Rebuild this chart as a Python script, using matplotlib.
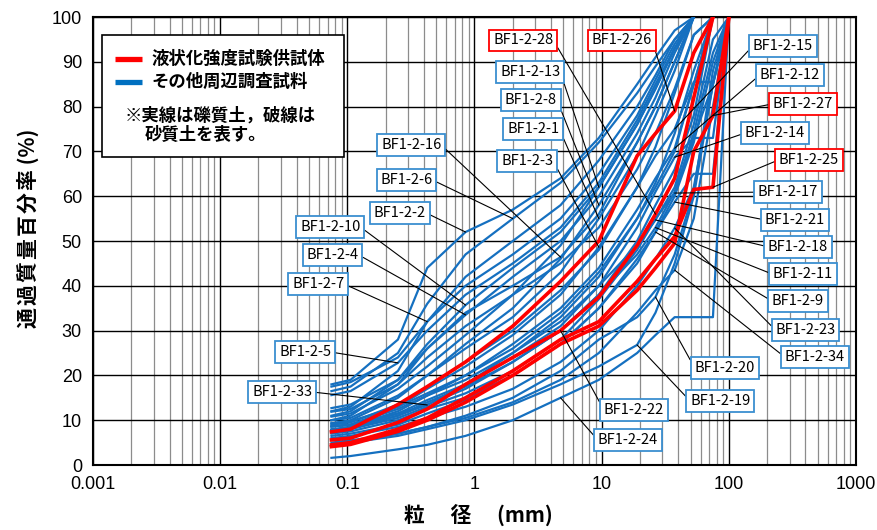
import matplotlib
matplotlib.use("Agg")
import matplotlib.pyplot as plt
from matplotlib.patches import Rectangle
from matplotlib.lines import Line2D
from matplotlib.ticker import FixedLocator, NullFormatter

# Sieve openings (mm)
sieves = [0.075, 0.106, 0.25, 0.425, 0.85, 2.0, 4.75, 9.5, 19.0, 26.5, 37.5, 53.0, 75.0, 100.0]

# Percent passing for each sample, listed along the sieves until 100 % is reached
bf_1 = [10.0, 10.5, 15.5, 20.0, 26.0, 33.0, 43.0, 55.0, 69.0, 78.0, 88.0, 100.0]
bf_2 = [18.0, 19.0, 28.0, 44.0, 52.0, 57.0, 64.0, 73.0, 85.0, 91.0, 97.0, 100.0]
bf_3 = [8.6, 9.0, 13.0, 17.0, 22.0, 29.0, 38.0, 48.6, 62.0, 71.0, 83.0, 96.0, 100.0]
bf_4 = [10.0, 11.0, 18.0, 26.0, 33.5, 42.0, 50.0, 60.0, 74.0, 82.0, 92.0, 100.0]
bf_5 = [15.6, 16.5, 22.8, 30.0, 38.0, 45.0, 53.0, 63.0, 77.0, 85.0, 93.0, 100.0]
bf_6 = [16.5, 17.5, 25.0, 36.0, 47.0, 55.0, 63.0, 72.0, 83.0, 89.0, 95.0, 100.0]
bf_7 = [12.0, 13.0, 21.0, 32.0, 40.0, 47.0, 55.0, 65.0, 78.0, 86.0, 94.0, 100.0]
bf_8 = [9.3, 10.0, 15.0, 20.0, 27.0, 35.0, 46.0, 58.0, 72.0, 80.0, 90.0, 100.0]
bf_9 = [7.0, 7.5, 10.0, 12.5, 15.0, 20.0, 27.0, 35.0, 45.0, 52.0, 60.0, 72.0, 90.0, 100.0]
bf_10 = [11.0, 12.0, 19.0, 27.0, 35.7, 44.0, 52.0, 62.0, 76.0, 84.0, 93.0, 100.0]
bf_11 = [7.8, 8.2, 11.0, 14.0, 17.5, 23.0, 30.0, 38.0, 47.0, 53.0, 61.0, 74.0, 92.0, 100.0]
bf_12 = [7.8, 8.5, 12.0, 15.5, 20.0, 27.0, 35.0, 44.0, 57.0, 64.0, 70.7, 85.0, 100.0]
bf_13 = [10.8, 11.5, 17.0, 22.0, 29.0, 38.0, 49.0, 62.0, 76.0, 84.0, 93.0, 100.0]
bf_14 = [8.0, 8.5, 11.5, 14.5, 18.0, 24.0, 31.0, 40.0, 53.0, 61.0, 68.7, 73.0, 73.0, 100.0]
bf_15 = [9.0, 9.5, 13.5, 17.5, 23.0, 30.0, 39.0, 48.0, 62.0, 69.0, 75.0, 85.5, 85.5, 100.0]
bf_16 = [12.7, 13.5, 19.0, 26.0, 34.0, 40.0, 46.4, 56.0, 72.0, 80.0, 90.0, 100.0]
bf_17 = [7.5, 8.0, 10.5, 13.0, 16.0, 21.0, 28.0, 37.0, 48.0, 55.0, 60.7, 73.0, 85.0, 100.0]
bf_18 = [8.6, 9.0, 12.5, 15.5, 19.0, 25.0, 32.0, 40.0, 49.0, 54.7, 62.0, 76.0, 95.0, 100.0]
bf_19 = [4.5, 5.0, 6.5, 8.0, 10.0, 13.5, 18.0, 22.0, 26.8, 34.0, 45.0, 60.0, 85.0, 100.0]
bf_20 = [4.5, 5.0, 7.0, 8.5, 11.0, 15.0, 21.0, 28.0, 33.0, 37.5, 47.0, 61.0, 88.0, 100.0]
bf_21 = [6.5, 7.0, 9.0, 11.5, 14.5, 20.0, 27.0, 35.0, 46.0, 52.0, 58.7, 65.0, 65.0, 100.0]
bf_22 = [7.8, 8.3, 11.0, 13.5, 17.0, 23.0, 30.0, 38.0, 50.0, 58.0, 66.0, 78.0, 100.0]
bf_23 = [6.0, 6.5, 8.5, 10.5, 13.0, 17.0, 23.0, 30.0, 40.0, 46.0, 52.9, 62.0, 85.0, 100.0]
bf_24 = [1.6, 2.0, 3.5, 4.5, 6.5, 10.0, 15.0, 19.0, 25.0, 29.0, 33.0, 33.0, 33.0, 100.0]
bf_25 = [4.5, 5.0, 8.0, 10.5, 15.0, 21.0, 28.0, 32.0, 41.0, 46.0, 51.0, 61.5, 62.0, 100.0]
bf_26 = [7.4, 8.0, 13.5, 17.5, 23.0, 31.0, 41.0, 50.0, 69.0, 74.0, 79.0, 92.0, 100.0]
bf_27 = [4.1, 4.6, 7.5, 10.0, 14.0, 20.0, 27.0, 31.0, 39.0, 44.0, 49.5, 70.0, 78.0, 100.0]
bf_28 = [5.6, 6.0, 9.5, 12.5, 18.0, 24.0, 30.0, 37.5, 49.0, 56.0, 64.0, 82.0, 100.0]
bf_29 = [17.5, 18.5, 24.0, 32.0, 42.0, 50.0, 58.0, 68.0, 80.0, 87.0, 95.0, 100.0]
bf_30 = [11.9, 12.5, 18.0, 24.0, 31.0, 38.0, 45.0, 53.0, 66.0, 74.0, 84.0, 96.0, 100.0]
bf_31 = [9.3, 9.8, 13.0, 16.0, 20.0, 26.0, 34.0, 43.0, 55.0, 62.0, 70.0, 85.0, 100.0]
bf_33 = [8.6, 9.0, 11.5, 13.4, 18.0, 25.0, 33.0, 42.0, 55.0, 63.0, 74.0, 88.0, 100.0]
bf_34 = [5.0, 5.5, 7.0, 8.5, 10.5, 14.0, 19.0, 25.0, 34.0, 39.0, 43.5, 55.0, 80.0, 100.0]

# Samples used in the liquefaction strength tests
test_samples = {"BF1-2-25": bf_25, "BF1-2-26": bf_26, "BF1-2-27": bf_27, "BF1-2-28": bf_28}
# Samples from the surrounding investigation
survey_samples = {
    "BF1-2-1": bf_1, "BF1-2-2": bf_2, "BF1-2-3": bf_3, "BF1-2-4": bf_4, "BF1-2-5": bf_5,
    "BF1-2-6": bf_6, "BF1-2-7": bf_7, "BF1-2-8": bf_8, "BF1-2-9": bf_9, "BF1-2-10": bf_10,
    "BF1-2-11": bf_11, "BF1-2-12": bf_12, "BF1-2-13": bf_13, "BF1-2-14": bf_14,
    "BF1-2-15": bf_15, "BF1-2-16": bf_16, "BF1-2-17": bf_17, "BF1-2-18": bf_18,
    "BF1-2-19": bf_19, "BF1-2-20": bf_20, "BF1-2-21": bf_21, "BF1-2-22": bf_22,
    "BF1-2-23": bf_23, "BF1-2-24": bf_24, "BF1-2-29": bf_29, "BF1-2-30": bf_30,
    "BF1-2-31": bf_31, "BF1-2-33": bf_33, "BF1-2-34": bf_34,
}

# Callouts: sample, box centre (axes fraction), side the leader leaves from, sieve index it points to
callouts = [
    ("BF1-2-28", (0.564, 0.948), "r", 9),
    ("BF1-2-26", (0.693, 0.948), "r", 10),
    ("BF1-2-15", (0.904, 0.935), "l", 10),
    ("BF1-2-12", (0.913, 0.870), "l", 10),
    ("BF1-2-27", (0.930, 0.806), "l", 12),
    ("BF1-2-14", (0.894, 0.741), "l", 10),
    ("BF1-2-25", (0.938, 0.681), "l", 12),
    ("BF1-2-17", (0.911, 0.609), "l", 10),
    ("BF1-2-21", (0.920, 0.547), "l", 10),
    ("BF1-2-18", (0.924, 0.487), "l", 9),
    ("BF1-2-11", (0.930, 0.426), "l", 9),
    ("BF1-2-9", (0.924, 0.366), "l", 9),
    ("BF1-2-23", (0.934, 0.301), "l", 10),
    ("BF1-2-34", (0.946, 0.241), "l", 10),
    ("BF1-2-20", (0.828, 0.217), "l", 9),
    ("BF1-2-19", (0.822, 0.143), "l", 8),
    ("BF1-2-22", (0.709, 0.123), "l", 6),
    ("BF1-2-24", (0.701, 0.056), "l", 6),
    ("BF1-2-13", (0.573, 0.877), "r", 7),
    ("BF1-2-8", (0.574, 0.815), "r", 7),
    ("BF1-2-1", (0.577, 0.750), "r", 7),
    ("BF1-2-3", (0.569, 0.679), "r", 7),
    ("BF1-2-16", (0.417, 0.714), "r", 6),
    ("BF1-2-6", (0.411, 0.636), "r", 5),
    ("BF1-2-2", (0.402, 0.563), "r", 4),
    ("BF1-2-10", (0.311, 0.531), "r", 4),
    ("BF1-2-4", (0.314, 0.469), "r", 4),
    ("BF1-2-7", (0.295, 0.404), "r", 3),
    ("BF1-2-5", (0.278, 0.252), "r", 2),
    ("BF1-2-33", (0.248, 0.163), "r", 3),
]

x_ticks = [0.001, 0.01, 0.1, 1, 10, 100, 1000]
x_tick_labels = ["0.001", "0.01", "0.1", "1", "10", "100", "1000"]
y_ticks = list(range(0, 101, 10))

RED = "#FF0000"
BLUE = "#1570C0"
BOX_BLUE = "#3A8FD0"
JP = ["Noto Sans CJK JP", "DejaVu Sans"]

fig = plt.figure(figsize=(8.78, 5.30), dpi=100)
ax = fig.add_axes([93 / 878, 65 / 530, 763 / 878, 448 / 530])
ax.set_xscale("log")
ax.set_xlim(0.001, 1000)
ax.set_ylim(0, 100)

# grid: dark decades and tens, light intermediate sizes
minor = [m * 10.0 ** e for e in range(-3, 3) for m in range(2, 10)]
ax.xaxis.set_minor_locator(FixedLocator(minor))
ax.xaxis.set_minor_formatter(NullFormatter())
ax.set_xticks(x_ticks)
ax.set_xticklabels(x_tick_labels)
ax.set_yticks(y_ticks)
ax.grid(which="minor", axis="x", color="#8c8c8c", lw=0.9)
ax.grid(which="major", axis="both", color="black", lw=1.0)
ax.set_axisbelow(True)
ax.tick_params(which="both", length=0, pad=8, labelsize=13)
for lab in ax.get_xticklabels() + ax.get_yticklabels():
    lab.set_family("Liberation Sans")
for sp in ax.spines.values():
    sp.set_linewidth(1.5)

for name, vals in survey_samples.items():
    ax.plot(sieves[:len(vals)], vals, color=BLUE, lw=1.6, zorder=3, solid_joinstyle="round")
for name, vals in test_samples.items():
    ax.plot(sieves[:len(vals)], vals, color=RED, lw=2.6, zorder=4, solid_joinstyle="round")

all_samples = {**survey_samples, **test_samples}
for name, (fx, fy), side, k in callouts:
    vals = all_samples[name]
    ec = RED if name in test_samples else BOX_BLUE
    ax.annotate(
        name, xy=(sieves[k], vals[k]), xycoords="data",
        xytext=(fx, fy), textcoords="axes fraction",
        ha="center", va="center", fontsize=10.5, family=JP, zorder=6,
        bbox=dict(boxstyle="square,pad=0.26", fc="white", ec=ec, lw=1.3),
        arrowprops=dict(arrowstyle="-", color="black", lw=0.8, shrinkA=0, shrinkB=0,
                        relpos=(0.0 if side == "l" else 1.0, 0.5)),
        annotation_clip=False,
    )

# legend panel
ax.add_patch(Rectangle((0.0118, 0.6875), 0.317, 0.2725, transform=ax.transAxes,
                       fc="white", ec="black", lw=1.2, zorder=7))
ax.add_line(Line2D([0.029, 0.064], [0.907, 0.907], transform=ax.transAxes,
                   color=RED, lw=3.8, zorder=8, solid_capstyle="butt"))
ax.add_line(Line2D([0.029, 0.064], [0.855, 0.855], transform=ax.transAxes,
                   color="#0070C0", lw=3.8, zorder=8, solid_capstyle="butt"))
legend_font = dict(fontsize=12.5, fontweight="bold", family=JP, va="center", ha="left",
                   transform=ax.transAxes, zorder=8)
ax.text(0.077, 0.907, "液状化強度試験供試体", **legend_font)
ax.text(0.077, 0.855, "その他周辺調査試料", **legend_font)
ax.text(0.042, 0.781, "※実線は礫質土，破線は", **legend_font)
ax.text(0.068, 0.736, "砂質土を表す。", **legend_font)

fig.text(28 / 878, 1 - 228 / 530, "通\u200a過\u200a質\u200a量\u200a百\u200a分\u200a率 (%)",
         rotation=90, ha="center", va="center", fontsize=15, fontweight="bold", family=JP)
fig.text(478 / 878, 1 - 515 / 530, "粒\u3000 径\u3000 (mm)", ha="center", va="center",
         fontsize=15, fontweight="bold", family=JP)

fig.savefig("out.png", dpi=100)
